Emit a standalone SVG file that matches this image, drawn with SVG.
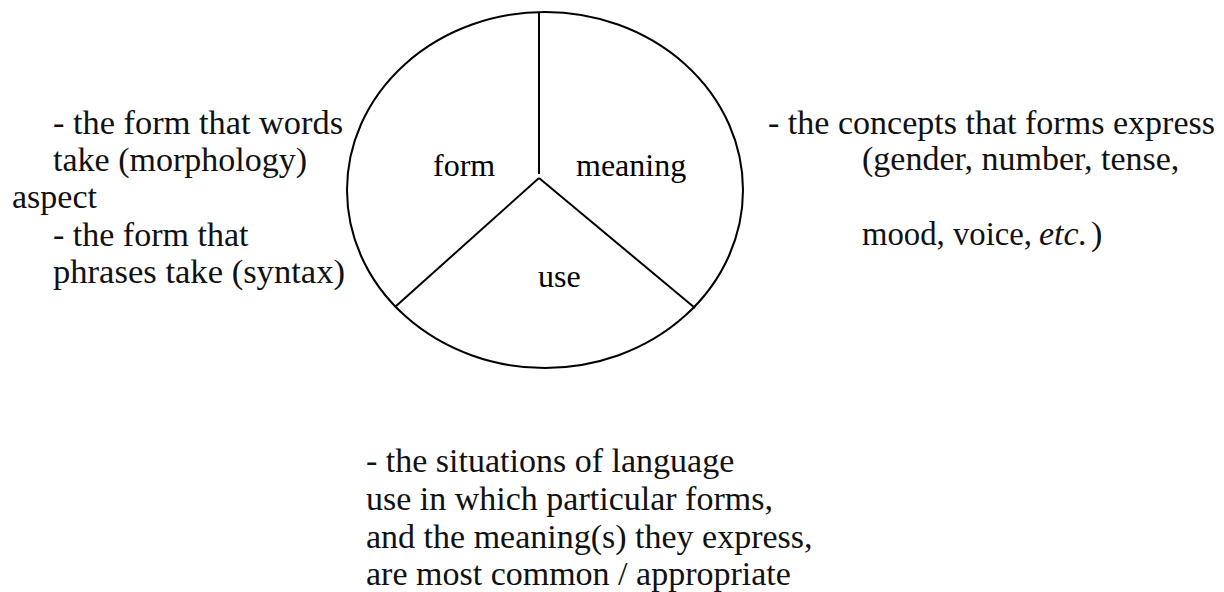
<svg xmlns="http://www.w3.org/2000/svg" width="1224" height="592" viewBox="0 0 1224 592">
<style>
.line{fill:none;stroke:#000;stroke-width:2}
.lbl{font-family:"Liberation Serif","Times New Roman",serif;font-size:32px;fill:#000}
.note{font-family:"Liberation Serif","Times New Roman",serif;font-size:34px;fill:#111}
.it{font-style:italic}
</style>
<rect width="1224" height="592" fill="#fff"/>
<g id="pie">
<ellipse class="line" cx="545" cy="190" rx="198" ry="178"/>
</g>
<g id="connectors">
<line class="line" x1="539" y1="12" x2="539" y2="174"/>
<line class="line" x1="539" y1="178" x2="395" y2="307"/>
<line class="line" x1="539" y1="178" x2="695" y2="308"/>
</g>
<g id="form"><text class="lbl" x="433" y="176">form</text></g>
<g id="meaning"><text class="lbl" x="576" y="176">meaning</text></g>
<g id="use"><text class="lbl" x="538" y="287">use</text></g>
<g id="form-notes">
<text class="note" x="53" y="134" textLength="290" lengthAdjust="spacingAndGlyphs">- the form that words</text>
<text class="note" x="53" y="171">take (morphology)</text>
<text class="note" x="12" y="208">aspect</text>
<text class="note" x="53" y="246">- the form that</text>
<text class="note" x="53" y="283" textLength="292" lengthAdjust="spacingAndGlyphs">phrases take (syntax)</text>
</g>
<g id="meaning-notes">
<text class="note" x="768" y="134" textLength="447" lengthAdjust="spacingAndGlyphs">- the concepts that forms express</text>
<text class="note" x="862" y="170">(gender, number, tense,</text>
<text class="note" x="862" y="245" textLength="170" lengthAdjust="spacingAndGlyphs">mood, voice,</text>
<text class="note it" x="1039" y="245">etc.</text>
<text class="note" x="1091" y="245">)</text>
</g>
<g id="use-notes">
<text class="note" x="366" y="472">- the situations of language</text>
<text class="note" x="366" y="510">use in which particular forms,</text>
<text class="note" x="366" y="548">and the meaning(s) they express,</text>
<text class="note" x="366" y="585">are most common / appropriate</text>
</g>
</svg>
